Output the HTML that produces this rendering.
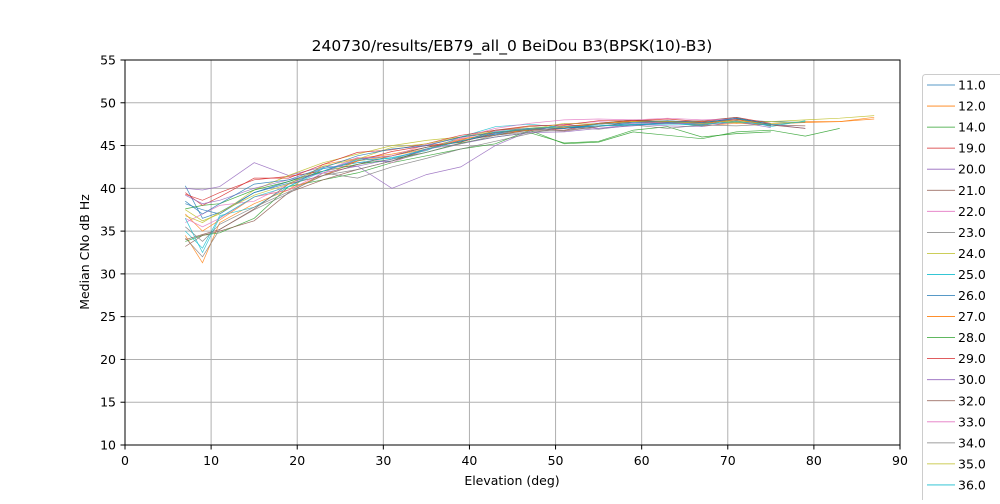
<!DOCTYPE html>
<html><head><meta charset="utf-8"><style>
body{margin:0;background:#fff;font-family:"DejaVu Sans","Liberation Sans",sans-serif;}
svg text{font-family:"DejaVu Sans","Liberation Sans",sans-serif;}
</style></head><body>
<svg id="chart" width="1000" height="500" xmlns="http://www.w3.org/2000/svg">
<text x="512" y="51" font-size="15.5" text-anchor="middle">240730/results/EB79_all_0 BeiDou B3(BPSK(10)-B3)</text>
<g id="grid"></g>
<g id="series"></g>
<rect x="125" y="60" width="775" height="385" fill="none" stroke="#000" stroke-width="1"/>
<g id="ticks"></g>
<text x="512" y="485" font-size="12.5" text-anchor="middle">Elevation (deg)</text>
<text transform="translate(89,252) rotate(-90)" font-size="12.5" text-anchor="middle">Median CNo dB Hz</text>
<g id="legend"></g>
</svg>
<script>
const labels=["11.0","12.0","14.0","19.0","20.0","21.0","22.0","23.0","24.0","25.0","26.0","27.0","28.0","29.0","30.0","32.0","33.0","34.0","35.0","36.0","37.0"];
const elev=[7,9,11,15,19,23,27,31,35,39,43,47,51,55,59,63,67,71,75,79,83,87];
const s0=[40.3,36.5,37.2,39.5,40.8,42.3,43.0,43.2,44.6,45.5,46.3,46.8,47.0,47.3,47.6,47.8,47.6,48.0,47.8,47.7,null,null];
const s1=[34.5,31.3,36.0,38.2,39.8,42.8,43.5,44.0,44.8,45.8,46.2,46.9,47.3,47.5,47.9,47.7,47.3,47.6,47.4,47.8,47.8,48.3];
const s2=[33.8,34.5,34.8,36.5,40.2,41.0,41.8,43.0,43.8,44.6,45.2,46.8,45.2,45.4,46.6,46.2,45.8,46.6,46.8,46.1,47.0,null];
const s3=[39.3,38.6,39.5,41.0,41.4,42.0,43.2,44.3,45.0,45.4,46.5,47.0,46.8,47.6,47.9,47.8,47.7,48.1,47.3,null,null,null];
const s4=[40.0,39.8,40.2,43.0,41.5,42.5,42.6,40.0,41.6,42.5,45.0,46.7,47.5,47.0,47.5,47.3,47.2,47.8,47.1,null,null,null];
const s5=[33.2,34.5,35.0,36.2,39.5,41.0,42.2,43.2,44.5,45.6,46.2,46.8,46.7,47.2,47.8,47.6,47.5,48.1,47.4,47.3,null,null];
const s6=[36.0,37.0,38.0,38.5,40.5,42.0,43.6,43.0,44.5,45.8,46.7,47.2,47.5,47.8,47.6,47.7,47.5,47.8,47.6,null,null,null];
const s7=[34.2,32.0,35.2,37.5,39.4,41.8,41.2,42.5,43.5,44.6,45.5,46.4,47.2,46.9,47.4,47.6,47.4,47.9,47.3,null,null,null];
const s8=[37.5,36.2,37.0,39.8,41.5,43.0,44.0,45.0,45.6,46.0,46.8,47.2,47.0,47.6,48.0,47.8,47.8,47.8,47.8,48.0,48.2,48.5];
const s9=[35.0,33.0,36.8,37.8,40.2,42.3,43.0,43.6,44.4,46.0,47.2,47.5,47.1,47.3,47.5,47.6,47.3,48.2,47.2,47.9,null,null];
const s10=[38.2,37.5,37.0,39.5,40.6,42.0,43.4,43.8,44.8,45.5,46.4,46.9,47.0,47.3,47.4,47.7,47.6,48.2,47.5,null,null,null];
const s11=[37.0,35.0,36.3,39.0,39.8,41.5,43.2,43.8,44.6,45.7,46.5,46.8,47.1,47.6,47.8,47.9,47.6,48.0,47.5,47.7,47.8,48.1];
const s12=[37.6,38.0,38.2,39.8,40.8,42.0,42.8,43.4,44.2,45.3,46.0,46.5,45.3,45.5,46.8,47.2,46.0,46.4,46.6,null,null,null];
const s13=[39.5,38.0,39.0,41.2,41.2,42.8,44.2,44.5,45.2,46.2,46.8,47.3,47.4,47.9,47.9,48.1,47.8,48.3,47.6,null,null,null];
const s14=[39.2,38.2,38.6,40.0,41.0,41.8,42.6,43.4,44.6,45.2,46.0,46.5,46.6,47.0,47.3,47.6,47.5,47.7,47.5,47.0,null,null];
const s15=[34.0,34.6,35.2,37.6,40.5,41.5,42.8,43.8,44.8,45.4,46.8,47.0,47.2,47.6,48.0,47.8,47.9,48.3,47.4,47.0,null,null];
const s16=[36.5,35.5,36.5,39.0,39.8,41.8,43.5,43.8,45.1,45.9,47.0,47.6,48.0,48.1,48.0,48.2,48.0,48.1,null,null,null,null];
const s17=[35.5,33.8,35.8,37.8,39.6,41.5,42.2,43.2,44.2,45.2,46.2,46.6,46.8,47.3,47.4,47.0,47.4,47.3,47.5,null,null,null];
const s18=[36.8,36.0,37.2,39.2,40.5,42.6,43.4,44.8,45.2,46.0,46.6,46.9,47.6,47.5,47.8,47.8,47.6,47.7,47.6,47.8,null,null];
const s19=[36.5,32.5,36.6,39.0,40.2,42.0,43.3,43.5,44.6,45.5,46.6,47.0,47.2,47.3,47.4,47.5,47.5,47.8,47.4,47.8,null,null];
const s20=[38.5,37.0,38.2,40.5,41.0,42.4,43.8,44.6,45.0,46.0,46.5,46.9,47.0,47.5,47.7,47.9,47.7,48.2,47.5,null,null,null];
const series=[s0,s1,s2,s3,s4,s5,s6,s7,s8,s9,s10,s11,s12,s13,s14,s15,s16,s17,s18,s19,s20];
const xTicks=[0,10,20,30,40,50,60,70,80,90];
const yTicks=[10,15,20,25,30,35,40,45,50,55];
const colors=["#1f77b4","#ff7f0e","#2ca02c","#d62728","#9467bd","#8c564b","#e377c2","#7f7f7f","#bcbd22","#17becf"];
const X=e=>125+e*775/90, Y=v=>445-(v-10)*385/45;
const NS="http://www.w3.org/2000/svg";
const mk=(t,a,p)=>{const e=document.createElementNS(NS,t);for(const k in a)e.setAttribute(k,a[k]);p.appendChild(e);return e;};
const grid=document.getElementById('grid'),ticks=document.getElementById('ticks');
xTicks.forEach(t=>{
 const l=mk('line',{x1:X(t),x2:X(t),y1:60,y2:445,stroke:'#b0b0b0','stroke-width':1},grid);
 
 
 mk('line',{x1:X(t),x2:X(t),y1:445,y2:449.5,stroke:'#000'},ticks);
 const tx=mk('text',{x:X(t),y:465,'font-size':12.5,'text-anchor':'middle'},ticks);tx.textContent=t;
 
 
});
yTicks.forEach(t=>{
 const l=mk('line',{x1:125,x2:900,y1:Y(t),y2:Y(t),stroke:'#b0b0b0','stroke-width':1},grid);
 
 
 mk('line',{x1:120.5,x2:125,y1:Y(t),y2:Y(t),stroke:'#000'},ticks);
 const tx=mk('text',{x:116,y:Y(t)+4.5,'font-size':12.5,'text-anchor':'end'},ticks);tx.textContent=t;
 
 
});
const sg=document.getElementById('series');
series.forEach((s,i)=>{
 const pts=[];s.forEach((v,j)=>{if(v!==null)pts.push(X(elev[j]).toFixed(1)+','+Y(v).toFixed(1));});
 const p=mk('polyline',{points:pts.join(' '),fill:'none',stroke:colors[i%10],'stroke-width':0.7,'stroke-opacity':0.85},sg);
 
 
});
const lg=document.getElementById('legend');
const box=mk('rect',{x:922.5,y:74.5,width:90,height:440,rx:3,fill:'#fff',stroke:'#ccc'},lg);


labels.forEach((lab,i)=>{
 const y=85+i*21.05;
 const g=mk('g',{},lg);
 
 
 mk('line',{x1:927,x2:955,y1:y,y2:y,stroke:colors[i%10],'stroke-width':0.8},g);
 const t=mk('text',{x:958,y:y+4.5,'font-size':12.5},g);t.textContent=lab;
});
</script>
</body></html>
